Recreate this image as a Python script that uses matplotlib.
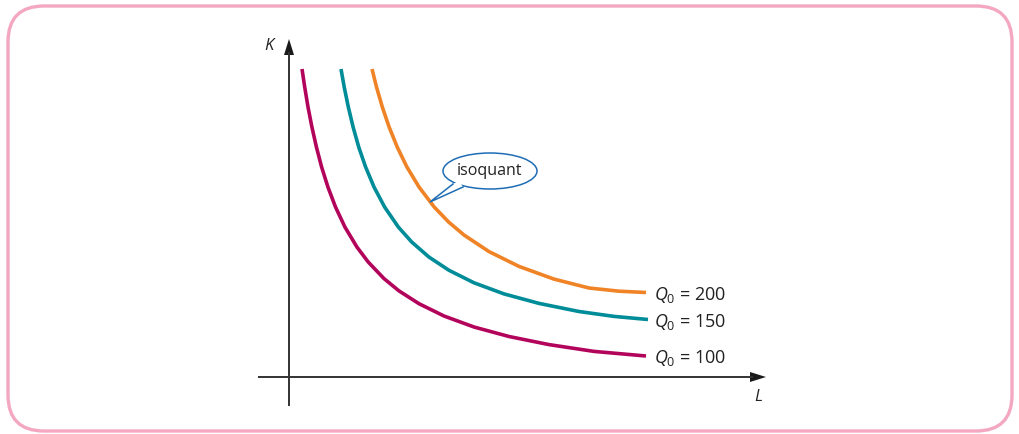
import matplotlib
matplotlib.use("Agg")
import matplotlib.pyplot as plt
from matplotlib.patches import FancyBboxPatch, Ellipse, Polygon

plt.rcParams["font.family"] = ["Open Sans", "DejaVu Sans"]
plt.rcParams["mathtext.fontset"] = "custom"
plt.rcParams["mathtext.rm"] = "Open Sans"
plt.rcParams["mathtext.it"] = "Open Sans:italic"

# isoquants (L, K)
q_levels = [100, 150, 200]
L_100 = [13.0, 15.7, 19.0, 22.9, 27.4, 32.6, 38.9, 46.5, 55.9, 67.9, 79.2,
         95, 110, 130, 155, 185, 220, 260, 305, 357]
K_100 = [308, 290, 270, 250, 230, 210, 190, 170, 150, 130, 115,
         98.4, 86.1, 73.3, 61.0, 50.0, 40.5, 32.4, 25.6, 21.0]
L_150 = [52.0, 55.2, 59.3, 64.1, 69.7, 76.6, 85.0, 95.6, 109.3, 122.7,
         140, 160, 185, 215, 250, 290, 325, 359]
K_150 = [308, 290, 270, 250, 230, 210, 190, 170, 150, 135,
         119.9, 106.7, 94.2, 83.1, 73.6, 65.5, 60.6, 57.5]
L_200 = [83.0, 87.5, 93.3, 100.1, 108.2, 117.9, 130.0, 145.2, 159.6,
         175, 200, 230, 265, 300, 330, 357]
K_200 = [308, 290, 270, 250, 230, 210, 190, 170, 155,
         142.0, 125.4, 110.6, 97.9, 89.0, 85.8, 84.5]

colors = {100: "#b3045c", 150: "#008c98", 200: "#ef8326"}
curves = {100: (L_100, K_100), 150: (L_150, K_150), 200: (L_200, K_200)}

W, H = 1019, 435
ox, oy = 289, 378  # where the axes cross, in pixels

fig = plt.figure(figsize=(W / 100, H / 100), dpi=100)
ax = fig.add_axes([0, 0, 1, 1])
ax.set_xlim(-ox, W - ox)
ax.set_ylim(oy - H, oy)
ax.axis("off")

# rounded pink frame
frame = FancyBboxPatch((8 - ox, oy - 432), 1004, 425,
                       boxstyle="round,pad=0,rounding_size=36",
                       fill=False, edgecolor="#f4a7c0", linewidth=2.4)
ax.add_patch(frame)

# axes with arrow heads
axis_col = "#333333"
ax.plot([0, 0], [-29, 325], color=axis_col, lw=1.4, solid_capstyle="butt")
ax.plot([-31, 464], [0, 0], color=axis_col, lw=1.4, solid_capstyle="butt")
ax.add_patch(Polygon([[-5, 322], [5, 322], [0, 338]], closed=True,
                     facecolor="#1a1a1a", edgecolor="none"))
ax.add_patch(Polygon([[461, 5], [461, -5], [477, 0]], closed=True,
                     facecolor="#1a1a1a", edgecolor="none"))
ax.text(-20, 332, "K", style="italic", fontsize=12, color="#222222",
        ha="center", va="center")
ax.text(469, -19, "L", style="italic", fontsize=12, color="#222222",
        ha="center", va="center")

for q in q_levels:
    xs, ys = curves[q]
    ax.plot(xs, ys, color=colors[q], lw=2.6, solid_capstyle="butt",
            solid_joinstyle="round")
    ax.text(365, ys[-1] - 1.5, rf"$Q_0$ = {q}", fontsize=13,
            color="#222222", ha="left", va="center")

# speech bubble
blue = "#1f6db5"
bx, by = 201, 206
ax.add_patch(Ellipse((bx, by), 94, 36, facecolor="white", edgecolor=blue, lw=1.1))
tip = (141, 175)
p1 = (164, 193)
p2 = (174, 190)
ax.add_patch(Polygon([tip, p1, (170, 196), p2], closed=True,
                     facecolor="white", edgecolor="none", zorder=3))
ax.plot([p1[0], tip[0], p2[0]], [p1[1], tip[1], p2[1]], color=blue, lw=1.1,
        zorder=4, solid_joinstyle="miter")
ax.text(bx, by + 1, "isoquant", fontsize=11.5, color="#222222",
        ha="center", va="center", zorder=5)

fig.savefig("out.png", dpi=100)
